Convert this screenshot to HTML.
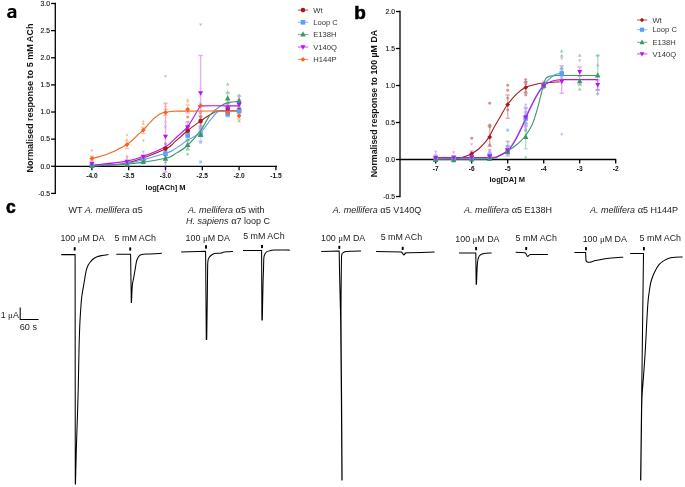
<!DOCTYPE html><html><head><meta charset="utf-8"><style>html,body{margin:0;padding:0;background:#fff;}svg{display:block;will-change:transform;}text{font-family:"Liberation Sans", sans-serif;}</style></head><body>
<svg width="685" height="487" viewBox="0 0 685 487">
<rect width="685" height="487" fill="#fff"/>
<path d="M8.2,10.9 L8.2,8.9 C9.3,8.4 10.6,8.1 11.9,8.1 C14.9,8.1 16.3,9.2 16.3,11.6 L16.3,17.9 L13.6,17.9 L13.6,16.9 C12.9,17.6 11.9,18.1 10.8,18.1 C8.6,18.1 7.1,16.8 7.1,14.9 C7.1,12.5 9.3,11.5 13.2,11.4 L13.6,11.4 C13.6,10.4 12.9,9.9 11.6,9.9 C10.4,9.9 9.2,10.3 8.2,10.9 Z M13.6,13.1 L12.9,13.1 C10.9,13.2 10.0,13.8 10.0,14.8 C10.0,15.6 10.6,16.2 11.5,16.2 C12.7,16.2 13.6,15.4 13.6,14.3 Z" fill="#000"/>
<text transform="translate(33,172.6) rotate(-90)" font-size="9" font-weight="bold" fill="#111" textLength="149.0" lengthAdjust="spacingAndGlyphs">Normalised response to 5 mM ACh</text>
<g stroke="#000" stroke-width="1.3" fill="none">
<path d="M55.3,2.85 L55.3,194.05"/>
<path d="M51.1,3.50 L55.3,3.50"/>
<path d="M51.1,30.63 L55.3,30.63"/>
<path d="M51.1,57.76 L55.3,57.76"/>
<path d="M51.1,84.89 L55.3,84.89"/>
<path d="M51.1,112.02 L55.3,112.02"/>
<path d="M51.1,139.15 L55.3,139.15"/>
<path d="M51.1,166.28 L55.3,166.28"/>
<path d="M51.1,193.41 L55.3,193.41"/>
<path d="M55.3,166.30 L277.0,166.30"/>
<path d="M91.90,166.30 L91.90,170.2"/>
<path d="M128.70,166.30 L128.70,170.2"/>
<path d="M165.50,166.30 L165.50,170.2"/>
<path d="M202.30,166.30 L202.30,170.2"/>
<path d="M239.10,166.30 L239.10,170.2"/>
<path d="M275.90,166.30 L275.90,170.2"/>
</g>
<text x="50.0" y="5.80" font-size="6.8" text-anchor="end" fill="#111" stroke="#111" stroke-width="0.12">3.0</text>
<text x="50.0" y="32.93" font-size="6.8" text-anchor="end" fill="#111" stroke="#111" stroke-width="0.12">2.5</text>
<text x="50.0" y="60.06" font-size="6.8" text-anchor="end" fill="#111" stroke="#111" stroke-width="0.12">2.0</text>
<text x="50.0" y="87.19" font-size="6.8" text-anchor="end" fill="#111" stroke="#111" stroke-width="0.12">1.5</text>
<text x="50.0" y="114.32" font-size="6.8" text-anchor="end" fill="#111" stroke="#111" stroke-width="0.12">1.0</text>
<text x="50.0" y="141.45" font-size="6.8" text-anchor="end" fill="#111" stroke="#111" stroke-width="0.12">0.5</text>
<text x="50.0" y="168.58" font-size="6.8" text-anchor="end" fill="#111" stroke="#111" stroke-width="0.12">0.0</text>
<text x="50.0" y="195.71" font-size="6.8" text-anchor="end" fill="#111" stroke="#111" stroke-width="0.12">-0.5</text>
<text x="91.90" y="177.9" font-size="6.6" font-weight="bold" text-anchor="middle" fill="#111">-4.0</text>
<text x="128.70" y="177.9" font-size="6.6" font-weight="bold" text-anchor="middle" fill="#111">-3.5</text>
<text x="165.50" y="177.9" font-size="6.6" font-weight="bold" text-anchor="middle" fill="#111">-3.0</text>
<text x="202.30" y="177.9" font-size="6.6" font-weight="bold" text-anchor="middle" fill="#111">-2.5</text>
<text x="239.10" y="177.9" font-size="6.6" font-weight="bold" text-anchor="middle" fill="#111">-2.0</text>
<text x="275.90" y="177.9" font-size="6.6" font-weight="bold" text-anchor="middle" fill="#111">-1.5</text>
<text x="145.6" y="190" font-size="7.5" font-weight="bold" fill="#111">log[ACh] M</text>
<g fill="none" stroke-width="1.4">
<path d="M165.50,103.10 L165.50,172.00 M163.30,103.10 L167.70,103.10 M163.30,172.00 L167.70,172.00" stroke="#bd10f5" opacity="0.35"/>
<path d="M200.60,55.50 L200.60,131.00 M198.40,55.50 L202.80,55.50 M198.40,131.00 L202.80,131.00" stroke="#bd10f5" opacity="0.35"/>
<path d="M127.00,141.10 L127.00,148.50 M124.80,141.10 L129.20,141.10 M124.80,148.50 L129.20,148.50" stroke="#f8621a" opacity="0.35"/>
<path d="M143.30,127.20 L143.30,133.20 M141.10,127.20 L145.50,127.20 M141.10,133.20 L145.50,133.20" stroke="#f8621a" opacity="0.35"/>
<path d="M165.50,109.20 L165.50,115.20 M163.30,109.20 L167.70,109.20 M163.30,115.20 L167.70,115.20" stroke="#f8621a" opacity="0.35"/>
<path d="M91.90,156.20 L91.90,160.50 M89.70,156.20 L94.10,156.20 M89.70,160.50 L94.10,160.50" stroke="#f8621a" opacity="0.35"/>
<path d="M187.70,105.00 L187.70,113.00 M185.50,105.00 L189.90,105.00 M185.50,113.00 L189.90,113.00" stroke="#f8621a" opacity="0.35"/>
<path d="M187.70,126.00 L187.70,135.00 M185.50,126.00 L189.90,126.00 M185.50,135.00 L189.90,135.00" stroke="#a81a1a" opacity="0.35"/>
<path d="M200.60,116.00 L200.60,126.00 M198.40,116.00 L202.80,116.00 M198.40,126.00 L202.80,126.00" stroke="#a81a1a" opacity="0.35"/>
<path d="M187.70,131.00 L187.70,140.00 M185.50,131.00 L189.90,131.00 M185.50,140.00 L189.90,140.00" stroke="#5c9ef8" opacity="0.35"/>
<path d="M200.60,128.00 L200.60,141.00 M198.40,128.00 L202.80,128.00 M198.40,141.00 L202.80,141.00" stroke="#5c9ef8" opacity="0.35"/>
<path d="M187.70,140.00 L187.70,150.00 M185.50,140.00 L189.90,140.00 M185.50,150.00 L189.90,150.00" stroke="#3a9a5e" opacity="0.35"/>
<path d="M227.70,93.00 L227.70,104.00 M225.50,93.00 L229.90,93.00 M225.50,104.00 L229.90,104.00" stroke="#3a9a5e" opacity="0.35"/>
<path d="M187.70,122.00 L187.70,132.00 M185.50,122.00 L189.90,122.00 M185.50,132.00 L189.90,132.00" stroke="#bd10f5" opacity="0.35"/>
<path d="M227.70,103.00 L227.70,113.00 M225.50,103.00 L229.90,103.00 M225.50,113.00 L229.90,113.00" stroke="#bd10f5" opacity="0.35"/>
<path d="M239.10,100.00 L239.10,109.00 M236.90,100.00 L241.30,100.00 M236.90,109.00 L241.30,109.00" stroke="#bd10f5" opacity="0.35"/>
<path d="M239.10,96.00 L239.10,106.00 M236.90,96.00 L241.30,96.00 M236.90,106.00 L241.30,106.00" stroke="#3a9a5e" opacity="0.35"/>
<path d="M239.10,112.00 L239.10,119.00 M236.90,112.00 L241.30,112.00 M236.90,119.00 L241.30,119.00" stroke="#f8621a" opacity="0.35"/>
</g>
<circle cx="91.90" cy="164.00" r="1.45" fill="#c47878" opacity="0.80"/>
<circle cx="127.00" cy="161.00" r="1.45" fill="#c47878" opacity="0.80"/>
<circle cx="143.30" cy="157.00" r="1.45" fill="#c47878" opacity="0.80"/>
<circle cx="165.50" cy="144.00" r="1.45" fill="#c47878" opacity="0.80"/>
<circle cx="165.50" cy="152.00" r="1.45" fill="#c47878" opacity="0.80"/>
<circle cx="187.70" cy="117.10" r="1.45" fill="#c47878" opacity="0.80"/>
<circle cx="187.70" cy="126.00" r="1.45" fill="#c47878" opacity="0.80"/>
<circle cx="187.70" cy="136.00" r="1.45" fill="#c47878" opacity="0.80"/>
<circle cx="200.60" cy="113.00" r="1.45" fill="#c47878" opacity="0.80"/>
<circle cx="200.60" cy="117.00" r="1.45" fill="#c47878" opacity="0.80"/>
<circle cx="200.60" cy="122.80" r="1.45" fill="#c47878" opacity="0.80"/>
<circle cx="200.60" cy="128.00" r="1.45" fill="#c47878" opacity="0.80"/>
<circle cx="227.70" cy="106.00" r="1.45" fill="#c47878" opacity="0.80"/>
<circle cx="227.70" cy="111.00" r="1.45" fill="#c47878" opacity="0.80"/>
<circle cx="239.10" cy="108.00" r="1.45" fill="#c47878" opacity="0.80"/>
<circle cx="239.10" cy="112.00" r="1.45" fill="#c47878" opacity="0.80"/>
<rect x="90.45" y="164.55" width="2.90" height="2.90" fill="#8fbaf6" opacity="0.80"/>
<rect x="125.55" y="160.55" width="2.90" height="2.90" fill="#8fbaf6" opacity="0.80"/>
<rect x="141.85" y="155.55" width="2.90" height="2.90" fill="#8fbaf6" opacity="0.80"/>
<rect x="164.05" y="148.55" width="2.90" height="2.90" fill="#8fbaf6" opacity="0.80"/>
<rect x="164.05" y="155.55" width="2.90" height="2.90" fill="#8fbaf6" opacity="0.80"/>
<rect x="186.25" y="126.55" width="2.90" height="2.90" fill="#8fbaf6" opacity="0.80"/>
<rect x="186.25" y="130.55" width="2.90" height="2.90" fill="#8fbaf6" opacity="0.80"/>
<rect x="186.25" y="138.55" width="2.90" height="2.90" fill="#8fbaf6" opacity="0.80"/>
<rect x="199.15" y="140.75" width="2.90" height="2.90" fill="#8fbaf6" opacity="0.80"/>
<rect x="199.15" y="160.45" width="2.90" height="2.90" fill="#8fbaf6" opacity="0.80"/>
<rect x="199.15" y="126.55" width="2.90" height="2.90" fill="#8fbaf6" opacity="0.80"/>
<rect x="226.25" y="109.55" width="2.90" height="2.90" fill="#8fbaf6" opacity="0.80"/>
<rect x="226.25" y="114.55" width="2.90" height="2.90" fill="#8fbaf6" opacity="0.80"/>
<rect x="237.65" y="106.55" width="2.90" height="2.90" fill="#8fbaf6" opacity="0.80"/>
<rect x="237.65" y="112.55" width="2.90" height="2.90" fill="#8fbaf6" opacity="0.80"/>
<path d="M91.90,164.02 L93.64,167.32 L90.16,167.32 Z" fill="#80c096" opacity="0.80"/>
<path d="M127.00,163.02 L128.74,166.32 L125.26,166.32 Z" fill="#80c096" opacity="0.80"/>
<path d="M143.30,161.02 L145.04,164.32 L141.56,164.32 Z" fill="#80c096" opacity="0.80"/>
<path d="M165.50,153.02 L167.24,156.32 L163.76,156.32 Z" fill="#80c096" opacity="0.80"/>
<path d="M165.50,160.02 L167.24,163.32 L163.76,163.32 Z" fill="#80c096" opacity="0.80"/>
<path d="M187.70,146.32 L189.44,149.62 L185.96,149.62 Z" fill="#80c096" opacity="0.80"/>
<path d="M187.70,152.02 L189.44,155.32 L185.96,155.32 Z" fill="#80c096" opacity="0.80"/>
<path d="M187.70,138.02 L189.44,141.32 L185.96,141.32 Z" fill="#80c096" opacity="0.80"/>
<path d="M200.60,118.02 L202.34,121.32 L198.86,121.32 Z" fill="#80c096" opacity="0.80"/>
<path d="M200.60,133.02 L202.34,136.32 L198.86,136.32 Z" fill="#80c096" opacity="0.80"/>
<path d="M227.70,82.32 L229.44,85.62 L225.96,85.62 Z" fill="#80c096" opacity="0.80"/>
<path d="M227.70,90.02 L229.44,93.32 L225.96,93.32 Z" fill="#80c096" opacity="0.80"/>
<path d="M227.70,100.02 L229.44,103.32 L225.96,103.32 Z" fill="#80c096" opacity="0.80"/>
<path d="M239.10,93.32 L240.84,96.62 L237.36,96.62 Z" fill="#80c096" opacity="0.80"/>
<path d="M239.10,119.02 L240.84,122.32 L237.36,122.32 Z" fill="#80c096" opacity="0.80"/>
<path d="M239.10,102.02 L240.84,105.32 L237.36,105.32 Z" fill="#80c096" opacity="0.80"/>
<path d="M91.90,161.72 L93.50,158.85 L90.31,158.85 Z" fill="#d890f6" opacity="0.80"/>
<path d="M91.90,166.72 L93.50,163.85 L90.31,163.85 Z" fill="#d890f6" opacity="0.80"/>
<path d="M127.00,159.72 L128.59,156.85 L125.41,156.85 Z" fill="#d890f6" opacity="0.80"/>
<path d="M127.00,164.72 L128.59,161.85 L125.41,161.85 Z" fill="#d890f6" opacity="0.80"/>
<path d="M143.30,153.72 L144.90,150.85 L141.71,150.85 Z" fill="#d890f6" opacity="0.80"/>
<path d="M143.30,160.72 L144.90,157.85 L141.71,157.85 Z" fill="#d890f6" opacity="0.80"/>
<path d="M165.50,78.12 L167.09,75.25 L163.91,75.25 Z" fill="#d890f6" opacity="0.80"/>
<path d="M165.50,128.72 L167.09,125.85 L163.91,125.85 Z" fill="#d890f6" opacity="0.80"/>
<path d="M165.50,151.72 L167.09,148.85 L163.91,148.85 Z" fill="#d890f6" opacity="0.80"/>
<path d="M187.70,123.72 L189.29,120.85 L186.10,120.85 Z" fill="#d890f6" opacity="0.80"/>
<path d="M187.70,134.72 L189.29,131.85 L186.10,131.85 Z" fill="#d890f6" opacity="0.80"/>
<path d="M200.60,26.32 L202.19,23.45 L199.00,23.45 Z" fill="#d890f6" opacity="0.80"/>
<path d="M200.60,105.72 L202.19,102.85 L199.00,102.85 Z" fill="#d890f6" opacity="0.80"/>
<path d="M200.60,121.72 L202.19,118.85 L199.00,118.85 Z" fill="#d890f6" opacity="0.80"/>
<path d="M200.60,131.72 L202.19,128.85 L199.00,128.85 Z" fill="#d890f6" opacity="0.80"/>
<path d="M227.70,105.72 L229.29,102.85 L226.10,102.85 Z" fill="#d890f6" opacity="0.80"/>
<path d="M227.70,113.72 L229.29,110.85 L226.10,110.85 Z" fill="#d890f6" opacity="0.80"/>
<path d="M239.10,99.22 L240.69,96.35 L237.50,96.35 Z" fill="#d890f6" opacity="0.80"/>
<path d="M239.10,109.72 L240.69,106.85 L237.50,106.85 Z" fill="#d890f6" opacity="0.80"/>
<path d="M91.90,148.89 L93.41,150.40 L91.90,151.91 L90.39,150.40 Z" fill="#f2b47e" opacity="0.80"/>
<path d="M127.00,133.49 L128.51,135.00 L127.00,136.51 L125.49,135.00 Z" fill="#f2b47e" opacity="0.80"/>
<path d="M127.00,138.29 L128.51,139.80 L127.00,141.31 L125.49,139.80 Z" fill="#f2b47e" opacity="0.80"/>
<path d="M127.00,154.39 L128.51,155.90 L127.00,157.41 L125.49,155.90 Z" fill="#f2b47e" opacity="0.80"/>
<path d="M143.30,122.39 L144.81,123.90 L143.30,125.41 L141.79,123.90 Z" fill="#f2b47e" opacity="0.80"/>
<path d="M143.30,119.99 L144.81,121.50 L143.30,123.01 L141.79,121.50 Z" fill="#f2b47e" opacity="0.80"/>
<path d="M143.30,139.09 L144.81,140.60 L143.30,142.11 L141.79,140.60 Z" fill="#f2b47e" opacity="0.80"/>
<path d="M165.50,105.29 L167.01,106.80 L165.50,108.31 L163.99,106.80 Z" fill="#f2b47e" opacity="0.80"/>
<path d="M165.50,120.59 L167.01,122.10 L165.50,123.61 L163.99,122.10 Z" fill="#f2b47e" opacity="0.80"/>
<path d="M165.50,102.49 L167.01,104.00 L165.50,105.51 L163.99,104.00 Z" fill="#f2b47e" opacity="0.80"/>
<path d="M187.70,98.39 L189.21,99.90 L187.70,101.41 L186.19,99.90 Z" fill="#f2b47e" opacity="0.80"/>
<path d="M187.70,99.99 L189.21,101.50 L187.70,103.01 L186.19,101.50 Z" fill="#f2b47e" opacity="0.80"/>
<path d="M187.70,110.49 L189.21,112.00 L187.70,113.51 L186.19,112.00 Z" fill="#f2b47e" opacity="0.80"/>
<path d="M200.60,102.49 L202.11,104.00 L200.60,105.51 L199.09,104.00 Z" fill="#f2b47e" opacity="0.80"/>
<path d="M200.60,111.49 L202.11,113.00 L200.60,114.51 L199.09,113.00 Z" fill="#f2b47e" opacity="0.80"/>
<path d="M227.70,108.49 L229.21,110.00 L227.70,111.51 L226.19,110.00 Z" fill="#f2b47e" opacity="0.80"/>
<path d="M227.70,112.49 L229.21,114.00 L227.70,115.51 L226.19,114.00 Z" fill="#f2b47e" opacity="0.80"/>
<path d="M239.10,115.49 L240.61,117.00 L239.10,118.51 L237.59,117.00 Z" fill="#f2b47e" opacity="0.80"/>
<path d="M239.10,111.49 L240.61,113.00 L239.10,114.51 L237.59,113.00 Z" fill="#f2b47e" opacity="0.80"/>
<path d="M91.90,165.60 C97.70,165.17 114.43,165.78 126.70,163.00 C138.97,160.22 157.45,152.45 165.50,148.90 C173.55,145.35 171.33,144.73 175.00,141.70 C178.67,138.67 183.23,134.15 187.50,130.70 C191.77,127.25 197.12,123.48 200.60,121.00 C204.08,118.52 205.63,117.45 208.40,115.80 C211.17,114.15 214.93,111.93 217.20,111.10 C219.47,110.27 218.35,110.85 222.00,110.80 C225.65,110.75 236.25,110.80 239.10,110.80" fill="none" stroke="#a81a1a" stroke-width="1.1"/>
<path d="M91.90,165.80 C97.70,165.42 114.43,165.60 126.70,163.50 C138.97,161.40 157.45,155.63 165.50,153.20 C173.55,150.77 171.33,151.05 175.00,148.90 C178.67,146.75 183.23,143.05 187.50,140.30 C191.77,137.55 196.82,135.75 200.60,132.40 C204.38,129.05 207.43,123.55 210.20,120.20 C212.97,116.85 215.23,113.82 217.20,112.30 C219.17,110.78 218.35,111.32 222.00,111.10 C225.65,110.88 236.25,111.02 239.10,111.00" fill="none" stroke="#5c9ef8" stroke-width="1.1"/>
<path d="M91.90,166.00 C97.93,165.67 115.83,165.30 128.10,164.00 C140.37,162.70 157.68,159.88 165.50,158.20 C173.32,156.52 171.33,156.02 175.00,153.90 C178.67,151.78 183.23,149.37 187.50,145.50 C191.77,141.63 196.82,135.80 200.60,130.70 C204.38,125.60 206.85,119.03 210.20,114.90 C213.55,110.77 217.50,107.98 220.70,105.90 C223.90,103.82 226.33,103.17 229.40,102.40 C232.47,101.63 237.48,101.48 239.10,101.30" fill="none" stroke="#3a9a5e" stroke-width="1.1"/>
<path d="M91.90,165.40 C97.70,164.68 118.03,162.65 126.70,161.10 C135.37,159.55 137.43,158.50 143.90,156.10 C150.37,153.70 160.32,149.62 165.50,146.70 C170.68,143.78 171.33,141.92 175.00,138.60 C178.67,135.28 184.25,130.60 187.50,126.80 C190.75,123.00 192.50,119.02 194.50,115.80 C196.50,112.58 198.25,109.15 199.50,107.50 C200.75,105.85 195.40,106.17 202.00,105.90 C208.60,105.63 232.92,105.90 239.10,105.90" fill="none" stroke="#bd10f5" stroke-width="1.1"/>
<path d="M92.20,158.40 C93.10,158.18 95.62,157.63 97.60,157.10 C99.58,156.57 101.95,155.93 104.10,155.20 C106.25,154.47 108.37,153.58 110.50,152.70 C112.63,151.82 114.90,150.87 116.90,149.90 C118.90,148.93 120.73,147.83 122.50,146.90 C124.27,145.97 125.67,145.58 127.50,144.30 C129.33,143.02 131.57,140.97 133.50,139.20 C135.43,137.43 137.40,135.27 139.10,133.70 C140.80,132.13 142.17,131.35 143.70,129.80 C145.23,128.25 146.75,126.15 148.30,124.40 C149.85,122.65 151.45,120.77 153.00,119.30 C154.55,117.83 156.07,116.63 157.60,115.60 C159.13,114.57 160.82,113.67 162.20,113.10 C163.58,112.53 164.27,112.47 165.90,112.20 C167.53,111.93 169.65,111.68 172.00,111.50 C174.35,111.32 168.82,111.18 180.00,111.10 C191.18,111.02 229.25,111.02 239.10,111.00" fill="none" stroke="#f8621a" stroke-width="1.1"/>
<circle cx="91.90" cy="165.30" r="2.30" fill="#a81a1a" opacity="1.00"/>
<circle cx="127.00" cy="163.00" r="2.30" fill="#a81a1a" opacity="1.00"/>
<circle cx="143.30" cy="160.00" r="2.30" fill="#a81a1a" opacity="1.00"/>
<circle cx="165.50" cy="148.60" r="2.30" fill="#a81a1a" opacity="1.00"/>
<circle cx="187.70" cy="130.70" r="2.30" fill="#a81a1a" opacity="1.00"/>
<circle cx="200.60" cy="121.00" r="2.30" fill="#a81a1a" opacity="1.00"/>
<circle cx="227.70" cy="108.80" r="2.30" fill="#a81a1a" opacity="1.00"/>
<circle cx="239.10" cy="110.00" r="2.30" fill="#a81a1a" opacity="1.00"/>
<rect x="89.60" y="163.20" width="4.60" height="4.60" fill="#5c9ef8" opacity="1.00"/>
<rect x="124.70" y="161.20" width="4.60" height="4.60" fill="#5c9ef8" opacity="1.00"/>
<rect x="141.00" y="157.20" width="4.60" height="4.60" fill="#5c9ef8" opacity="1.00"/>
<rect x="163.20" y="151.40" width="4.60" height="4.60" fill="#5c9ef8" opacity="1.00"/>
<rect x="185.40" y="133.20" width="4.60" height="4.60" fill="#5c9ef8" opacity="1.00"/>
<rect x="198.30" y="132.20" width="4.60" height="4.60" fill="#5c9ef8" opacity="1.00"/>
<rect x="225.40" y="111.80" width="4.60" height="4.60" fill="#5c9ef8" opacity="1.00"/>
<rect x="236.80" y="108.80" width="4.60" height="4.60" fill="#5c9ef8" opacity="1.00"/>
<path d="M91.90,162.85 L94.66,168.10 L89.14,168.10 Z" fill="#3a9a5e" opacity="1.00"/>
<path d="M127.00,161.35 L129.76,166.60 L124.24,166.60 Z" fill="#3a9a5e" opacity="1.00"/>
<path d="M143.30,158.85 L146.06,164.10 L140.54,164.10 Z" fill="#3a9a5e" opacity="1.00"/>
<path d="M165.50,155.45 L168.26,160.70 L162.74,160.70 Z" fill="#3a9a5e" opacity="1.00"/>
<path d="M187.70,141.85 L190.46,147.10 L184.94,147.10 Z" fill="#3a9a5e" opacity="1.00"/>
<path d="M200.60,131.65 L203.36,136.90 L197.84,136.90 Z" fill="#3a9a5e" opacity="1.00"/>
<path d="M227.70,95.15 L230.46,100.40 L224.94,100.40 Z" fill="#3a9a5e" opacity="1.00"/>
<path d="M239.10,97.85 L241.86,103.10 L236.34,103.10 Z" fill="#3a9a5e" opacity="1.00"/>
<path d="M91.90,166.23 L94.43,161.68 L89.37,161.68 Z" fill="#bd10f5" opacity="1.00"/>
<path d="M127.00,164.23 L129.53,159.68 L124.47,159.68 Z" fill="#bd10f5" opacity="1.00"/>
<path d="M143.30,159.23 L145.83,154.68 L140.77,154.68 Z" fill="#bd10f5" opacity="1.00"/>
<path d="M165.50,139.23 L168.03,134.68 L162.97,134.68 Z" fill="#bd10f5" opacity="1.00"/>
<path d="M187.70,129.93 L190.23,125.38 L185.17,125.38 Z" fill="#bd10f5" opacity="1.00"/>
<path d="M200.60,95.83 L203.13,91.28 L198.07,91.28 Z" fill="#bd10f5" opacity="1.00"/>
<path d="M227.70,110.73 L230.23,106.18 L225.17,106.18 Z" fill="#bd10f5" opacity="1.00"/>
<path d="M239.10,107.23 L241.63,102.68 L236.57,102.68 Z" fill="#bd10f5" opacity="1.00"/>
<path d="M91.90,156.01 L94.29,158.40 L91.90,160.79 L89.51,158.40 Z" fill="#f8621a" opacity="1.00"/>
<path d="M127.00,142.21 L129.39,144.60 L127.00,146.99 L124.61,144.60 Z" fill="#f8621a" opacity="1.00"/>
<path d="M143.30,127.71 L145.69,130.10 L143.30,132.49 L140.91,130.10 Z" fill="#f8621a" opacity="1.00"/>
<path d="M165.50,110.01 L167.89,112.40 L165.50,114.79 L163.11,112.40 Z" fill="#f8621a" opacity="1.00"/>
<path d="M187.70,106.91 L190.09,109.30 L187.70,111.69 L185.31,109.30 Z" fill="#f8621a" opacity="1.00"/>
<path d="M200.60,103.41 L202.99,105.80 L200.60,108.19 L198.21,105.80 Z" fill="#f8621a" opacity="1.00"/>
<path d="M227.70,109.91 L230.09,112.30 L227.70,114.69 L225.31,112.30 Z" fill="#f8621a" opacity="1.00"/>
<path d="M239.10,113.41 L241.49,115.80 L239.10,118.19 L236.71,115.80 Z" fill="#f8621a" opacity="1.00"/>
<path d="M297.9,10.10 L308.2,10.10" stroke="#a81a1a" stroke-width="1.1" opacity="0.7"/>
<circle cx="303.00" cy="10.10" r="2.30" fill="#a81a1a" opacity="1.00"/>
<text x="313.3" y="12.80" font-size="7.6" fill="#333">Wt</text>
<path d="M297.9,22.30 L308.2,22.30" stroke="#5c9ef8" stroke-width="1.1" opacity="0.7"/>
<rect x="300.70" y="20.00" width="4.60" height="4.60" fill="#5c9ef8" opacity="1.00"/>
<text x="313.3" y="25.00" font-size="7.6" fill="#333">Loop C</text>
<path d="M297.9,34.50 L308.2,34.50" stroke="#3a9a5e" stroke-width="1.1" opacity="0.7"/>
<path d="M303.00,31.35 L305.76,36.60 L300.24,36.60 Z" fill="#3a9a5e" opacity="1.00"/>
<text x="313.3" y="37.20" font-size="7.6" fill="#333">E138H</text>
<path d="M297.9,47.00 L308.2,47.00" stroke="#bd10f5" stroke-width="1.1" opacity="0.7"/>
<path d="M303.00,49.73 L305.53,45.18 L300.47,45.18 Z" fill="#bd10f5" opacity="1.00"/>
<text x="313.3" y="49.70" font-size="7.6" fill="#333">V140Q</text>
<path d="M297.9,59.40 L308.2,59.40" stroke="#f8621a" stroke-width="1.1" opacity="0.7"/>
<path d="M303.00,57.01 L305.39,59.40 L303.00,61.79 L300.61,59.40 Z" fill="#f8621a" opacity="1.00"/>
<text x="313.3" y="62.10" font-size="7.6" fill="#333">H144P</text>
<text x="354.3" y="19.1" font-size="19" font-weight="bold" fill="#000" stroke="#000" stroke-width="0.6">b</text>
<text transform="translate(377.1,177.3) rotate(-90)" font-size="9" font-weight="bold" fill="#111" textLength="147.4" lengthAdjust="spacingAndGlyphs">Normalised response to 100 µM DA</text>
<g stroke="#000" stroke-width="1.3" fill="none">
<path d="M400.0,10.85 L400.0,197.15"/>
<path d="M395.9,11.50 L400.0,11.50"/>
<path d="M395.9,48.50 L400.0,48.50"/>
<path d="M395.9,85.50 L400.0,85.50"/>
<path d="M395.9,122.50 L400.0,122.50"/>
<path d="M395.9,159.50 L400.0,159.50"/>
<path d="M395.9,196.50 L400.0,196.50"/>
<path d="M400.0,159.50 L616.2,159.50"/>
<path d="M435.70,159.50 L435.70,163.4"/>
<path d="M471.70,159.50 L471.70,163.4"/>
<path d="M507.70,159.50 L507.70,163.4"/>
<path d="M543.70,159.50 L543.70,163.4"/>
<path d="M579.70,159.50 L579.70,163.4"/>
<path d="M615.70,159.50 L615.70,163.4"/>
</g>
<text x="395.0" y="13.80" font-size="6.8" text-anchor="end" fill="#111" stroke="#111" stroke-width="0.12">2.0</text>
<text x="395.0" y="50.80" font-size="6.8" text-anchor="end" fill="#111" stroke="#111" stroke-width="0.12">1.5</text>
<text x="395.0" y="87.80" font-size="6.8" text-anchor="end" fill="#111" stroke="#111" stroke-width="0.12">1.0</text>
<text x="395.0" y="124.80" font-size="6.8" text-anchor="end" fill="#111" stroke="#111" stroke-width="0.12">0.5</text>
<text x="395.0" y="161.80" font-size="6.8" text-anchor="end" fill="#111" stroke="#111" stroke-width="0.12">0.0</text>
<text x="395.0" y="198.80" font-size="6.8" text-anchor="end" fill="#111" stroke="#111" stroke-width="0.12">-0.5</text>
<text x="435.70" y="170.9" font-size="6.6" font-weight="bold" text-anchor="middle" fill="#111">-7</text>
<text x="471.70" y="170.9" font-size="6.6" font-weight="bold" text-anchor="middle" fill="#111">-6</text>
<text x="507.70" y="170.9" font-size="6.6" font-weight="bold" text-anchor="middle" fill="#111">-5</text>
<text x="543.70" y="170.9" font-size="6.6" font-weight="bold" text-anchor="middle" fill="#111">-4</text>
<text x="579.70" y="170.9" font-size="6.6" font-weight="bold" text-anchor="middle" fill="#111">-3</text>
<text x="615.70" y="170.9" font-size="6.6" font-weight="bold" text-anchor="middle" fill="#111">-2</text>
<text x="489.5" y="182.4" font-size="7.5" font-weight="bold" fill="#111">log[DA] M</text>
<g fill="none" stroke-width="1.4">
<path d="M489.70,125.80 L489.70,146.20 M487.50,125.80 L491.90,125.80 M487.50,146.20 L491.90,146.20" stroke="#a81a1a" opacity="0.35"/>
<path d="M507.70,95.00 L507.70,118.40 M505.50,95.00 L509.90,95.00 M505.50,118.40 L509.90,118.40" stroke="#a81a1a" opacity="0.35"/>
<path d="M525.70,82.00 L525.70,93.00 M523.50,82.00 L527.90,82.00 M523.50,93.00 L527.90,93.00" stroke="#a81a1a" opacity="0.35"/>
<path d="M525.70,123.00 L525.70,148.90 M523.50,123.00 L527.90,123.00 M523.50,148.90 L527.90,148.90" stroke="#3a9a5e" opacity="0.35"/>
<path d="M597.70,55.40 L597.70,90.00 M595.50,55.40 L599.90,55.40 M595.50,90.00 L599.90,90.00" stroke="#3a9a5e" opacity="0.35"/>
<path d="M561.70,65.60 L561.70,93.30 M559.50,65.60 L563.90,65.60 M559.50,93.30 L563.90,93.30" stroke="#bd10f5" opacity="0.35"/>
<path d="M525.70,108.00 L525.70,126.00 M523.50,108.00 L527.90,108.00 M523.50,126.00 L527.90,126.00" stroke="#bd10f5" opacity="0.35"/>
<path d="M525.70,112.00 L525.70,124.00 M523.50,112.00 L527.90,112.00 M523.50,124.00 L527.90,124.00" stroke="#5c9ef8" opacity="0.35"/>
<path d="M507.70,141.50 L507.70,156.00 M505.50,141.50 L509.90,141.50 M505.50,156.00 L509.90,156.00" stroke="#3a9a5e" opacity="0.35"/>
<path d="M507.70,146.00 L507.70,153.00 M505.50,146.00 L509.90,146.00 M505.50,153.00 L509.90,153.00" stroke="#bd10f5" opacity="0.35"/>
<path d="M561.70,69.00 L561.70,76.00 M559.50,69.00 L563.90,69.00 M559.50,76.00 L563.90,76.00" stroke="#5c9ef8" opacity="0.35"/>
<path d="M579.70,67.00 L579.70,76.00 M577.50,67.00 L581.90,67.00 M577.50,76.00 L581.90,76.00" stroke="#bd10f5" opacity="0.35"/>
<path d="M597.70,80.00 L597.70,90.00 M595.50,80.00 L599.90,80.00 M595.50,90.00 L599.90,90.00" stroke="#bd10f5" opacity="0.35"/>
<path d="M579.70,76.00 L579.70,85.00 M577.50,76.00 L581.90,76.00 M577.50,85.00 L581.90,85.00" stroke="#3a9a5e" opacity="0.35"/>
<path d="M507.70,146.00 L507.70,154.00 M505.50,146.00 L509.90,146.00 M505.50,154.00 L509.90,154.00" stroke="#5c9ef8" opacity="0.35"/>
<path d="M471.70,151.00 L471.70,158.00 M469.50,151.00 L473.90,151.00 M469.50,158.00 L473.90,158.00" stroke="#bd10f5" opacity="0.35"/>
<path d="M489.70,153.00 L489.70,159.00 M487.50,153.00 L491.90,153.00 M487.50,159.00 L491.90,159.00" stroke="#bd10f5" opacity="0.35"/>
</g>
<circle cx="471.70" cy="138.20" r="1.45" fill="#c47878" opacity="0.80"/>
<circle cx="471.70" cy="156.00" r="1.45" fill="#c47878" opacity="0.80"/>
<circle cx="489.70" cy="103.30" r="1.45" fill="#c47878" opacity="0.80"/>
<circle cx="489.70" cy="124.90" r="1.45" fill="#c47878" opacity="0.80"/>
<circle cx="489.70" cy="127.00" r="1.45" fill="#c47878" opacity="0.80"/>
<circle cx="489.70" cy="145.00" r="1.45" fill="#c47878" opacity="0.80"/>
<circle cx="507.70" cy="85.20" r="1.45" fill="#c47878" opacity="0.80"/>
<circle cx="507.70" cy="90.30" r="1.45" fill="#c47878" opacity="0.80"/>
<circle cx="507.70" cy="98.10" r="1.45" fill="#c47878" opacity="0.80"/>
<circle cx="507.70" cy="110.00" r="1.45" fill="#c47878" opacity="0.80"/>
<circle cx="525.70" cy="79.60" r="1.45" fill="#c47878" opacity="0.80"/>
<circle cx="525.70" cy="82.00" r="1.45" fill="#c47878" opacity="0.80"/>
<circle cx="525.70" cy="84.00" r="1.45" fill="#c47878" opacity="0.80"/>
<circle cx="525.70" cy="92.00" r="1.45" fill="#c47878" opacity="0.80"/>
<circle cx="525.70" cy="95.00" r="1.45" fill="#c47878" opacity="0.80"/>
<rect x="434.25" y="155.55" width="2.90" height="2.90" fill="#8fbaf6" opacity="0.80"/>
<rect x="470.25" y="153.55" width="2.90" height="2.90" fill="#8fbaf6" opacity="0.80"/>
<rect x="488.25" y="149.35" width="2.90" height="2.90" fill="#8fbaf6" opacity="0.80"/>
<rect x="488.25" y="151.55" width="2.90" height="2.90" fill="#8fbaf6" opacity="0.80"/>
<rect x="506.25" y="128.65" width="2.90" height="2.90" fill="#8fbaf6" opacity="0.80"/>
<rect x="506.25" y="145.55" width="2.90" height="2.90" fill="#8fbaf6" opacity="0.80"/>
<rect x="524.25" y="106.55" width="2.90" height="2.90" fill="#8fbaf6" opacity="0.80"/>
<rect x="524.25" y="112.55" width="2.90" height="2.90" fill="#8fbaf6" opacity="0.80"/>
<rect x="524.25" y="123.55" width="2.90" height="2.90" fill="#8fbaf6" opacity="0.80"/>
<rect x="524.25" y="128.55" width="2.90" height="2.90" fill="#8fbaf6" opacity="0.80"/>
<rect x="542.25" y="82.55" width="2.90" height="2.90" fill="#8fbaf6" opacity="0.80"/>
<rect x="542.25" y="85.55" width="2.90" height="2.90" fill="#8fbaf6" opacity="0.80"/>
<rect x="560.25" y="66.55" width="2.90" height="2.90" fill="#8fbaf6" opacity="0.80"/>
<rect x="560.25" y="70.25" width="2.90" height="2.90" fill="#8fbaf6" opacity="0.80"/>
<rect x="560.25" y="76.05" width="2.90" height="2.90" fill="#8fbaf6" opacity="0.80"/>
<path d="M471.70,158.02 L473.44,161.32 L469.96,161.32 Z" fill="#80c096" opacity="0.80"/>
<path d="M489.70,156.02 L491.44,159.32 L487.96,159.32 Z" fill="#80c096" opacity="0.80"/>
<path d="M507.70,144.02 L509.44,147.32 L505.96,147.32 Z" fill="#80c096" opacity="0.80"/>
<path d="M507.70,151.02 L509.44,154.32 L505.96,154.32 Z" fill="#80c096" opacity="0.80"/>
<path d="M525.70,121.02 L527.44,124.32 L523.96,124.32 Z" fill="#80c096" opacity="0.80"/>
<path d="M525.70,155.32 L527.44,158.62 L523.96,158.62 Z" fill="#80c096" opacity="0.80"/>
<path d="M525.70,128.02 L527.44,131.32 L523.96,131.32 Z" fill="#80c096" opacity="0.80"/>
<path d="M543.70,82.02 L545.44,85.32 L541.96,85.32 Z" fill="#80c096" opacity="0.80"/>
<path d="M543.70,86.02 L545.44,89.32 L541.96,89.32 Z" fill="#80c096" opacity="0.80"/>
<path d="M561.70,49.32 L563.44,52.62 L559.96,52.62 Z" fill="#80c096" opacity="0.80"/>
<path d="M561.70,53.42 L563.44,56.72 L559.96,56.72 Z" fill="#80c096" opacity="0.80"/>
<path d="M561.70,66.02 L563.44,69.32 L559.96,69.32 Z" fill="#80c096" opacity="0.80"/>
<path d="M579.70,53.42 L581.44,56.72 L577.96,56.72 Z" fill="#80c096" opacity="0.80"/>
<path d="M579.70,82.12 L581.44,85.42 L577.96,85.42 Z" fill="#80c096" opacity="0.80"/>
<path d="M579.70,87.22 L581.44,90.52 L577.96,90.52 Z" fill="#80c096" opacity="0.80"/>
<path d="M597.70,53.42 L599.44,56.72 L595.96,56.72 Z" fill="#80c096" opacity="0.80"/>
<path d="M597.70,91.32 L599.44,94.62 L595.96,94.62 Z" fill="#80c096" opacity="0.80"/>
<path d="M597.70,63.02 L599.44,66.32 L595.96,66.32 Z" fill="#80c096" opacity="0.80"/>
<path d="M435.70,153.72 L437.30,150.85 L434.10,150.85 Z" fill="#d890f6" opacity="0.80"/>
<path d="M435.70,156.72 L437.30,153.85 L434.10,153.85 Z" fill="#d890f6" opacity="0.80"/>
<path d="M453.70,154.22 L455.30,151.35 L452.10,151.35 Z" fill="#d890f6" opacity="0.80"/>
<path d="M471.70,146.02 L473.30,143.15 L470.10,143.15 Z" fill="#d890f6" opacity="0.80"/>
<path d="M471.70,156.72 L473.30,153.85 L470.10,153.85 Z" fill="#d890f6" opacity="0.80"/>
<path d="M489.70,151.72 L491.30,148.85 L488.10,148.85 Z" fill="#d890f6" opacity="0.80"/>
<path d="M489.70,159.72 L491.30,156.85 L488.10,156.85 Z" fill="#d890f6" opacity="0.80"/>
<path d="M507.70,143.72 L509.30,140.85 L506.10,140.85 Z" fill="#d890f6" opacity="0.80"/>
<path d="M507.70,148.72 L509.30,145.85 L506.10,145.85 Z" fill="#d890f6" opacity="0.80"/>
<path d="M507.70,156.72 L509.30,153.85 L506.10,153.85 Z" fill="#d890f6" opacity="0.80"/>
<path d="M525.70,106.72 L527.30,103.85 L524.11,103.85 Z" fill="#d890f6" opacity="0.80"/>
<path d="M525.70,113.72 L527.30,110.85 L524.11,110.85 Z" fill="#d890f6" opacity="0.80"/>
<path d="M525.70,125.72 L527.30,122.85 L524.11,122.85 Z" fill="#d890f6" opacity="0.80"/>
<path d="M525.70,129.72 L527.30,126.85 L524.11,126.85 Z" fill="#d890f6" opacity="0.80"/>
<path d="M543.70,83.72 L545.30,80.85 L542.11,80.85 Z" fill="#d890f6" opacity="0.80"/>
<path d="M543.70,89.72 L545.30,86.85 L542.11,86.85 Z" fill="#d890f6" opacity="0.80"/>
<path d="M561.70,60.22 L563.30,57.35 L560.11,57.35 Z" fill="#d890f6" opacity="0.80"/>
<path d="M561.70,136.12 L563.30,133.25 L560.11,133.25 Z" fill="#d890f6" opacity="0.80"/>
<path d="M561.70,76.72 L563.30,73.85 L560.11,73.85 Z" fill="#d890f6" opacity="0.80"/>
<path d="M579.70,62.22 L581.30,59.35 L578.11,59.35 Z" fill="#d890f6" opacity="0.80"/>
<path d="M579.70,77.72 L581.30,74.85 L578.11,74.85 Z" fill="#d890f6" opacity="0.80"/>
<path d="M597.70,92.02 L599.30,89.15 L596.11,89.15 Z" fill="#d890f6" opacity="0.80"/>
<path d="M597.70,96.12 L599.30,93.25 L596.11,93.25 Z" fill="#d890f6" opacity="0.80"/>
<path d="M435.70,159.30 C438.70,159.22 449.32,159.10 453.70,158.80 C458.08,158.50 459.03,158.35 462.00,157.50 C464.97,156.65 468.73,155.12 471.50,153.70 C474.27,152.28 476.45,150.75 478.60,149.00 C480.75,147.25 482.67,145.18 484.40,143.20 C486.13,141.22 487.40,139.72 489.00,137.10 C490.60,134.48 492.17,130.82 494.00,127.50 C495.83,124.18 497.75,121.03 500.00,117.20 C502.25,113.37 504.67,108.43 507.50,104.50 C510.33,100.57 514.17,96.37 517.00,93.60 C519.83,90.83 521.67,89.38 524.50,87.90 C527.33,86.42 530.53,85.55 534.00,84.70 C537.47,83.85 541.03,83.27 545.30,82.80 C549.57,82.33 557.22,82.05 559.60,81.90" fill="none" stroke="#a81a1a" stroke-width="1.1"/>
<path d="M435.70,158.00 C444.58,157.97 478.55,158.10 489.00,157.80 C499.45,157.50 495.67,157.12 498.40,156.20 C501.13,155.28 503.45,153.70 505.40,152.30 C507.35,150.90 508.48,149.88 510.10,147.80 C511.72,145.72 513.02,143.65 515.10,139.80 C517.18,135.95 520.40,129.42 522.60,124.70 C524.80,119.98 526.10,116.22 528.30,111.50 C530.50,106.78 533.28,100.80 535.80,96.40 C538.32,92.00 540.88,88.25 543.40,85.10 C545.92,81.95 548.80,79.30 550.90,77.50 C553.00,75.70 554.20,75.02 556.00,74.30 C557.80,73.58 560.75,73.38 561.70,73.20" fill="none" stroke="#5c9ef8" stroke-width="1.1"/>
<path d="M435.70,159.20 C444.58,159.15 478.28,159.57 489.00,158.90 C499.72,158.23 496.92,156.50 500.00,155.20 C503.08,153.90 504.67,152.88 507.50,151.10 C510.33,149.32 514.17,146.85 517.00,144.50 C519.83,142.15 521.98,140.30 524.50,137.00 C527.02,133.70 529.90,129.58 532.10,124.70 C534.30,119.82 536.13,113.05 537.70,107.70 C539.27,102.35 540.23,97.32 541.50,92.60 C542.77,87.88 544.05,82.07 545.30,79.40 C546.55,76.73 547.43,77.22 549.00,76.60 C550.57,75.98 552.87,75.88 554.70,75.70 C556.53,75.52 552.83,75.53 560.00,75.50 C567.17,75.47 591.42,75.50 597.70,75.50" fill="none" stroke="#3a9a5e" stroke-width="1.1"/>
<path d="M435.70,157.60 C444.58,157.58 478.55,157.77 489.00,157.50 C499.45,157.23 495.67,156.83 498.40,156.00 C501.13,155.17 503.45,153.78 505.40,152.50 C507.35,151.22 508.48,150.25 510.10,148.30 C511.72,146.35 513.02,144.57 515.10,140.80 C517.18,137.03 520.40,130.42 522.60,125.70 C524.80,120.98 526.10,117.22 528.30,112.50 C530.50,107.78 533.28,101.78 535.80,97.40 C538.32,93.02 540.88,88.85 543.40,86.20 C545.92,83.55 548.13,82.57 550.90,81.50 C553.67,80.43 556.82,80.12 560.00,79.80 C563.18,79.48 563.72,79.63 570.00,79.60 C576.28,79.57 593.08,79.60 597.70,79.60" fill="none" stroke="#bd10f5" stroke-width="1.1"/>
<path d="M435.70,156.61 L438.09,159.00 L435.70,161.39 L433.31,159.00 Z" fill="#a81a1a" opacity="1.00"/>
<path d="M453.70,156.61 L456.09,159.00 L453.70,161.39 L451.31,159.00 Z" fill="#a81a1a" opacity="1.00"/>
<path d="M471.70,151.31 L474.09,153.70 L471.70,156.09 L469.31,153.70 Z" fill="#a81a1a" opacity="1.00"/>
<path d="M489.70,134.71 L492.09,137.10 L489.70,139.49 L487.31,137.10 Z" fill="#a81a1a" opacity="1.00"/>
<path d="M507.70,102.21 L510.09,104.60 L507.70,106.99 L505.31,104.60 Z" fill="#a81a1a" opacity="1.00"/>
<path d="M525.70,85.21 L528.09,87.60 L525.70,89.99 L523.31,87.60 Z" fill="#a81a1a" opacity="1.00"/>
<rect x="433.40" y="156.20" width="4.60" height="4.60" fill="#5c9ef8" opacity="1.00"/>
<rect x="451.40" y="156.20" width="4.60" height="4.60" fill="#5c9ef8" opacity="1.00"/>
<rect x="469.40" y="155.20" width="4.60" height="4.60" fill="#5c9ef8" opacity="1.00"/>
<rect x="487.40" y="153.70" width="4.60" height="4.60" fill="#5c9ef8" opacity="1.00"/>
<rect x="505.40" y="147.90" width="4.60" height="4.60" fill="#5c9ef8" opacity="1.00"/>
<rect x="523.40" y="116.10" width="4.60" height="4.60" fill="#5c9ef8" opacity="1.00"/>
<rect x="541.40" y="83.30" width="4.60" height="4.60" fill="#5c9ef8" opacity="1.00"/>
<rect x="559.40" y="71.20" width="4.60" height="4.60" fill="#5c9ef8" opacity="1.00"/>
<path d="M435.70,156.85 L438.46,162.10 L432.94,162.10 Z" fill="#3a9a5e" opacity="1.00"/>
<path d="M453.70,156.95 L456.46,162.20 L450.94,162.20 Z" fill="#3a9a5e" opacity="1.00"/>
<path d="M471.70,156.35 L474.46,161.60 L468.94,161.60 Z" fill="#3a9a5e" opacity="1.00"/>
<path d="M489.70,155.85 L492.46,161.10 L486.94,161.10 Z" fill="#3a9a5e" opacity="1.00"/>
<path d="M507.70,148.85 L510.46,154.10 L504.94,154.10 Z" fill="#3a9a5e" opacity="1.00"/>
<path d="M525.70,133.75 L528.46,139.00 L522.94,139.00 Z" fill="#3a9a5e" opacity="1.00"/>
<path d="M543.70,82.45 L546.46,87.70 L540.94,87.70 Z" fill="#3a9a5e" opacity="1.00"/>
<path d="M579.70,78.05 L582.46,83.30 L576.94,83.30 Z" fill="#3a9a5e" opacity="1.00"/>
<path d="M597.70,72.15 L600.46,77.40 L594.94,77.40 Z" fill="#3a9a5e" opacity="1.00"/>
<path d="M435.70,160.23 L438.23,155.68 L433.17,155.68 Z" fill="#bd10f5" opacity="1.00"/>
<path d="M453.70,159.93 L456.23,155.38 L451.17,155.38 Z" fill="#bd10f5" opacity="1.00"/>
<path d="M471.70,159.73 L474.23,155.18 L469.17,155.18 Z" fill="#bd10f5" opacity="1.00"/>
<path d="M489.70,159.03 L492.23,154.48 L487.17,154.48 Z" fill="#bd10f5" opacity="1.00"/>
<path d="M507.70,152.93 L510.23,148.38 L505.17,148.38 Z" fill="#bd10f5" opacity="1.00"/>
<path d="M525.70,119.73 L528.23,115.18 L523.17,115.18 Z" fill="#bd10f5" opacity="1.00"/>
<path d="M543.70,88.33 L546.23,83.78 L541.17,83.78 Z" fill="#bd10f5" opacity="1.00"/>
<path d="M561.70,84.23 L564.23,79.68 L559.17,79.68 Z" fill="#bd10f5" opacity="1.00"/>
<path d="M579.70,74.43 L582.23,69.88 L577.17,69.88 Z" fill="#bd10f5" opacity="1.00"/>
<path d="M597.70,87.53 L600.23,82.98 L595.17,82.98 Z" fill="#bd10f5" opacity="1.00"/>
<path d="M637,20.00 L647.3,20.00" stroke="#a81a1a" stroke-width="1.1" opacity="0.7"/>
<path d="M642.00,17.82 L644.18,20.00 L642.00,22.18 L639.82,20.00 Z" fill="#a81a1a" opacity="1.00"/>
<text x="652.4" y="22.70" font-size="7.6" fill="#333">Wt</text>
<path d="M637,29.70 L647.3,29.70" stroke="#5c9ef8" stroke-width="1.1" opacity="0.7"/>
<rect x="639.90" y="27.60" width="4.20" height="4.20" fill="#5c9ef8" opacity="1.00"/>
<text x="652.4" y="32.40" font-size="7.6" fill="#333">Loop C</text>
<path d="M637,42.30 L647.3,42.30" stroke="#3a9a5e" stroke-width="1.1" opacity="0.7"/>
<path d="M642.00,39.43 L644.52,44.22 L639.48,44.22 Z" fill="#3a9a5e" opacity="1.00"/>
<text x="652.4" y="45.00" font-size="7.6" fill="#333">E138H</text>
<path d="M637,53.90 L647.3,53.90" stroke="#bd10f5" stroke-width="1.1" opacity="0.7"/>
<path d="M642.00,56.39 L644.31,52.24 L639.69,52.24 Z" fill="#bd10f5" opacity="1.00"/>
<text x="652.4" y="56.60" font-size="7.6" fill="#333">V140Q</text>
<text x="6.0" y="213.0" font-size="17.5" font-weight="bold" fill="#000" stroke="#000" stroke-width="0.6">c</text>
<text x="68.40" y="212.70" font-size="9" fill="#222">WT <tspan font-style="italic">A. mellifera</tspan> <tspan font-family="Liberation Serif" font-style="normal" font-size="10.4">α</tspan>5</text>
<text x="188.00" y="212.70" font-size="9" fill="#222"><tspan font-style="italic">A. mellifera</tspan> <tspan font-family="Liberation Serif" font-style="normal" font-size="10.4">α</tspan>5 with</text>
<text x="186.10" y="223.60" font-size="9" fill="#222"><tspan font-style="italic">H. sapiens</tspan> <tspan font-family="Liberation Serif" font-style="normal" font-size="10.4">α</tspan>7 loop C</text>
<text x="332.80" y="213.00" font-size="9" fill="#222"><tspan font-style="italic">A. mellifera</tspan> <tspan font-family="Liberation Serif" font-style="normal" font-size="10.4">α</tspan>5 V140Q</text>
<text x="464.10" y="213.00" font-size="9" fill="#222"><tspan font-style="italic">A. mellifera</tspan> <tspan font-family="Liberation Serif" font-style="normal" font-size="10.4">α</tspan>5 E138H</text>
<text x="590.10" y="212.60" font-size="9" fill="#222"><tspan font-style="italic">A. mellifera</tspan> <tspan font-family="Liberation Serif" font-style="normal" font-size="10.4">α</tspan>5 H144P</text>
<text x="60.40" y="241.00" font-size="8.9" fill="#222">100 <tspan font-family="Liberation Serif">μ</tspan>M DA</text>
<text x="185.60" y="240.80" font-size="8.9" fill="#222">100 <tspan font-family="Liberation Serif">μ</tspan>M DA</text>
<text x="321.00" y="241.40" font-size="8.9" fill="#222">100 <tspan font-family="Liberation Serif">μ</tspan>M DA</text>
<text x="455.30" y="242.10" font-size="8.9" fill="#222">100 <tspan font-family="Liberation Serif">μ</tspan>M DA</text>
<text x="582.70" y="242.00" font-size="8.9" fill="#222">100 <tspan font-family="Liberation Serif">μ</tspan>M DA</text>
<text x="114.60" y="240.70" font-size="8.9" fill="#222">5 mM ACh</text>
<text x="243.20" y="239.30" font-size="8.9" fill="#222">5 mM ACh</text>
<text x="380.70" y="239.80" font-size="8.9" fill="#222">5 mM ACh</text>
<text x="515.50" y="240.90" font-size="8.9" fill="#222">5 mM ACh</text>
<text x="639.60" y="241.00" font-size="8.9" fill="#222">5 mM ACh</text>
<rect x="73.75" y="247.20" width="1.9" height="3.30" fill="#000"/>
<rect x="129.25" y="247.40" width="1.9" height="3.20" fill="#000"/>
<rect x="205.05" y="245.20" width="1.9" height="3.50" fill="#000"/>
<rect x="261.05" y="244.90" width="1.9" height="3.20" fill="#000"/>
<rect x="338.35" y="245.90" width="1.9" height="3.00" fill="#000"/>
<rect x="401.75" y="246.80" width="1.9" height="3.20" fill="#000"/>
<rect x="475.15" y="247.00" width="1.9" height="3.20" fill="#000"/>
<rect x="525.25" y="247.00" width="1.9" height="3.10" fill="#000"/>
<rect x="585.05" y="247.10" width="1.9" height="3.20" fill="#000"/>
<rect x="642.95" y="247.00" width="1.9" height="3.40" fill="#000"/>
<path d="M61.20,254.60 L75.10,254.60 L75.30,484.00 L75.50,484.00 C75.63,478.33 76.00,460.67 76.30,450.00 C76.60,439.33 76.98,430.00 77.30,420.00 C77.62,410.00 77.92,401.67 78.20,390.00 C78.48,378.33 78.80,359.03 79.00,350.00 C79.20,340.97 79.25,340.37 79.40,335.80 C79.55,331.23 79.68,326.98 79.90,322.60 C80.12,318.22 80.38,313.88 80.70,309.50 C81.02,305.12 81.25,300.68 81.80,296.30 C82.35,291.92 83.25,287.55 84.00,283.20 C84.75,278.85 85.60,273.22 86.30,270.20 C87.00,267.18 87.45,266.57 88.20,265.10 C88.95,263.63 89.92,262.47 90.80,261.40 C91.68,260.33 92.33,259.52 93.50,258.70 C94.67,257.88 96.37,257.03 97.80,256.50 C99.23,255.97 100.32,255.82 102.10,255.50 C103.88,255.18 107.43,254.75 108.50,254.60" fill="none" stroke="#000" stroke-width="1.05" stroke-linejoin="round"/>
<path d="M116.30,254.30 L130.60,254.20 L131.30,302.50 L131.50,302.50 C131.63,299.70 131.92,289.93 132.30,285.70 C132.68,281.47 133.28,280.08 133.80,277.10 C134.32,274.12 134.93,270.48 135.40,267.80 C135.87,265.12 136.08,262.85 136.60,261.00 C137.12,259.15 137.67,257.77 138.50,256.70 C139.33,255.63 139.95,255.07 141.60,254.60 C143.25,254.13 145.02,254.12 148.40,253.90 C151.78,253.68 159.65,253.40 161.90,253.30" fill="none" stroke="#000" stroke-width="1.05" stroke-linejoin="round"/>
<path d="M181.10,252.00 L205.60,251.30 L206.30,339.40 L206.70,339.40 C206.82,331.17 207.25,301.60 207.40,290.00 C207.55,278.40 207.52,274.60 207.60,269.80 C207.68,265.00 207.65,263.25 207.90,261.20 C208.15,259.15 208.48,258.53 209.10,257.50 C209.72,256.47 210.68,255.67 211.60,255.00 C212.52,254.33 213.48,253.80 214.60,253.50 C215.72,253.20 217.17,253.27 218.30,253.20 C219.43,253.13 220.58,253.25 221.40,253.10 C222.22,252.95 222.28,252.52 223.20,252.30 C224.12,252.08 225.27,251.93 226.90,251.80 C228.53,251.67 231.98,251.55 233.00,251.50" fill="none" stroke="#000" stroke-width="1.05" stroke-linejoin="round"/>
<path d="M243.00,250.50 L261.60,250.50 L261.90,320.00 L262.30,320.00 C262.42,314.17 262.80,293.40 263.00,285.00 C263.20,276.60 263.35,274.18 263.50,269.60 C263.65,265.02 263.63,260.15 263.90,257.50 C264.17,254.85 264.53,254.72 265.10,253.70 C265.67,252.68 266.30,251.93 267.30,251.40 C268.30,250.87 269.95,250.72 271.10,250.50 C272.25,250.28 271.10,250.17 274.20,250.10 C277.30,250.03 287.12,250.10 289.70,250.10" fill="none" stroke="#000" stroke-width="1.05" stroke-linejoin="round"/>
<path d="M321.20,251.40 L339.20,251.10 L339.50,270.00 L340.60,317.00 L341.40,400.00 L341.90,480.00 L342.10,480.00 C342.02,466.67 341.78,427.17 341.60,400.00 C341.42,372.83 341.03,339.50 341.00,317.00 C340.97,294.50 341.27,275.38 341.40,265.00 C341.53,254.62 341.50,256.77 341.80,254.70 C342.10,252.63 342.50,253.12 343.20,252.60 C343.90,252.08 344.83,251.83 346.00,251.60 C347.17,251.37 347.68,251.32 350.20,251.20 C352.72,251.08 359.28,250.95 361.10,250.90" fill="none" stroke="#000" stroke-width="1.05" stroke-linejoin="round"/>
<path d="M376.10,251.40 L401.70,252.10 L402.70,253.60 L402.70,253.60 C402.92,253.82 403.57,254.90 404.00,254.90 C404.43,254.90 404.67,253.95 405.30,253.60 C405.93,253.25 402.92,253.05 407.80,252.80 C412.68,252.55 430.13,252.22 434.60,252.10" fill="none" stroke="#000" stroke-width="1.05" stroke-linejoin="round"/>
<path d="M459.00,253.00 L475.80,253.00 L476.20,284.30 L476.50,284.30 C476.63,281.08 476.98,269.43 477.30,265.00 C477.62,260.57 477.83,259.43 478.40,257.70 C478.97,255.97 479.77,255.32 480.70,254.60 C481.63,253.88 482.18,253.67 484.00,253.40 C485.82,253.13 490.33,253.07 491.60,253.00" fill="none" stroke="#000" stroke-width="1.05" stroke-linejoin="round"/>
<path d="M515.70,252.20 L525.20,252.70 L526.20,254.10 L526.20,254.10 C526.43,254.48 526.92,256.32 527.60,256.40 C528.28,256.48 529.07,254.92 530.30,254.60 C531.53,254.28 532.07,254.50 535.00,254.50 C537.93,254.50 545.75,254.58 547.90,254.60" fill="none" stroke="#000" stroke-width="1.05" stroke-linejoin="round"/>
<path d="M574.40,252.40 L585.60,252.40 L586.00,260.50 L586.10,260.90 C586.32,261.10 586.73,261.88 587.40,262.10 C588.07,262.32 588.73,262.45 590.10,262.20 C591.47,261.95 593.37,261.15 595.60,260.60 C597.83,260.05 600.87,259.33 603.50,258.90 C606.13,258.47 608.12,258.28 611.40,258.00 C614.68,257.72 621.23,257.33 623.20,257.20" fill="none" stroke="#000" stroke-width="1.05" stroke-linejoin="round"/>
<path d="M630.10,253.40 L643.50,253.40 L640.60,480.00 L640.80,480.00 C640.88,473.33 641.12,453.33 641.30,440.00 C641.48,426.67 641.53,410.55 641.90,400.00 C642.27,389.45 642.93,385.03 643.50,376.70 C644.07,368.37 644.77,358.90 645.30,350.00 C645.83,341.10 646.25,331.30 646.70,323.30 C647.15,315.30 647.58,307.22 648.00,302.00 C648.42,296.78 648.70,295.42 649.20,292.00 C649.70,288.58 650.13,284.75 651.00,281.50 C651.87,278.25 653.07,275.30 654.40,272.50 C655.73,269.70 657.27,266.77 659.00,264.70 C660.73,262.63 662.68,261.28 664.80,260.10 C666.92,258.92 668.73,258.13 671.70,257.60 C674.67,257.07 680.78,257.02 682.60,256.90" fill="none" stroke="#000" stroke-width="1.05" stroke-linejoin="round"/>
<path d="M20.2,307.6 L20.2,319.5 L38.6,319.5" fill="none" stroke="#000" stroke-width="1.05"/>
<text x="18.8" y="317.9" font-size="8.9" fill="#222" text-anchor="end">1 <tspan font-family="Liberation Serif">μ</tspan>A</text>
<text x="19.8" y="329.9" font-size="9.1" fill="#222">60 s</text>
</svg></body></html>
